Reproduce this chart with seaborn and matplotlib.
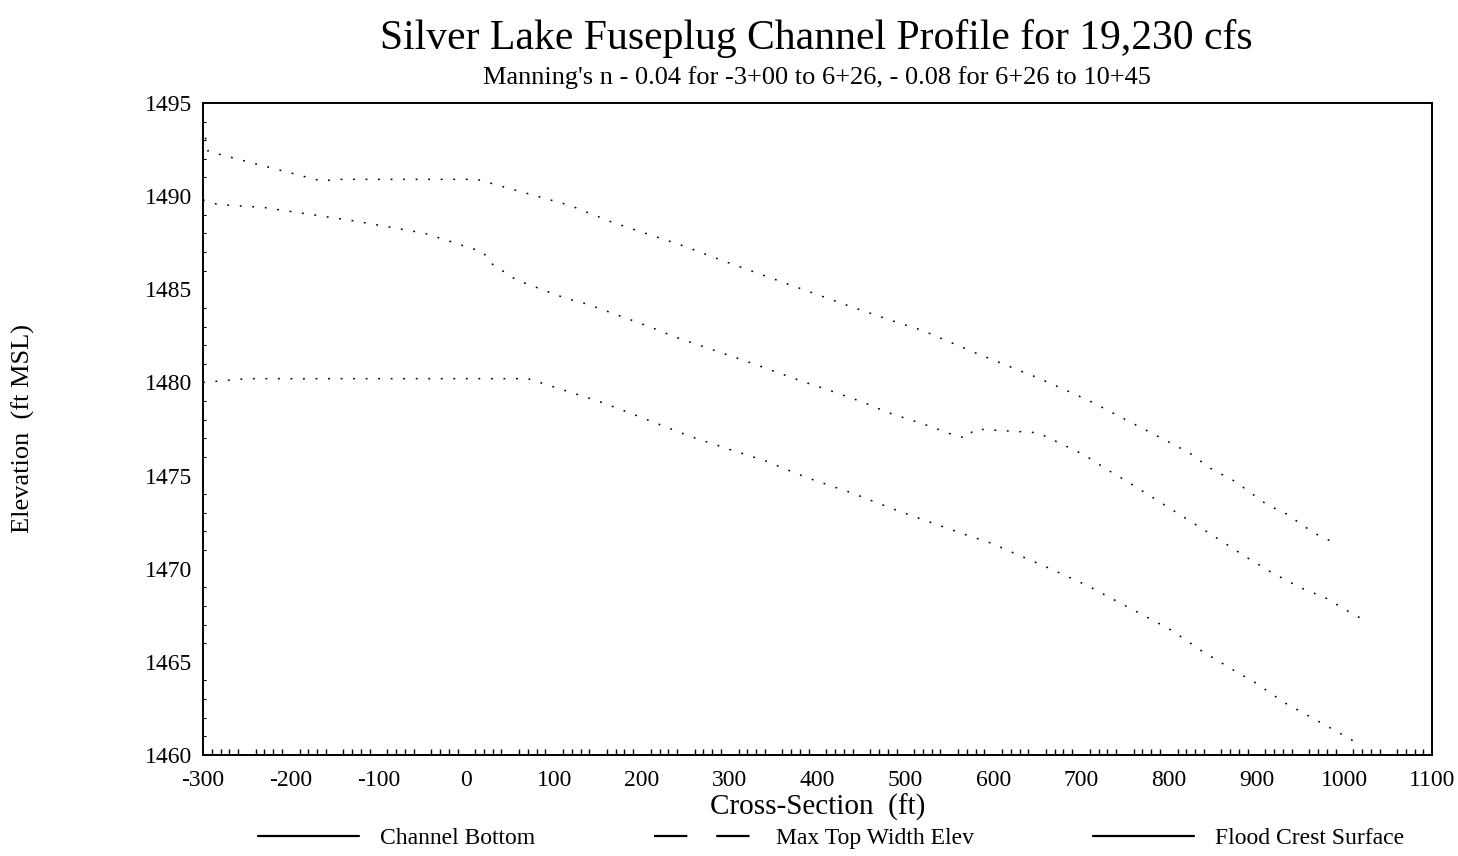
import matplotlib
matplotlib.use('Agg')
import matplotlib.pyplot as plt
import seaborn as sns
import pandas as pd
from matplotlib.lines import Line2D
from matplotlib.ticker import MultipleLocator, FuncFormatter

# estaciones (ft) y elevaciones (ft MSL)
station_bottom = [-300, -250, 70, 150, 184, 255, 300, 340, 387, 437, 492, 570, 596,
                  665, 707, 803, 837, 872, 898, 932, 963, 986, 1016]
elev_bottom = [1480.0, 1480.2, 1480.2, 1479.0, 1478.4, 1477.1, 1476.4, 1475.8, 1474.9,
               1474.1, 1473.1, 1471.8, 1471.4, 1470.0, 1469.1, 1466.7, 1465.6, 1464.6,
               1463.9, 1462.8, 1462.0, 1461.4, 1460.6]

station_top = [-300, -294, -164, -150, -124, -100, -60, -31, 12, 118, 166, 198, 249, 294,
               442, 492, 519, 579, 648, 682, 710, 796, 824, 847, 875, 913, 932, 966, 993]
elev_top = [1493.8, 1492.4, 1490.8, 1490.9, 1490.9, 1490.9, 1490.9, 1490.9, 1490.9,
            1489.5, 1488.6, 1488.1, 1487.3, 1486.5, 1484.0, 1483.2, 1482.8, 1481.6,
            1480.3, 1479.6, 1479.0, 1476.9, 1476.2, 1475.4, 1474.7, 1473.4, 1473.0,
            1471.9, 1471.3]

station_crest = [-300, -288, -268, -232, -132, -107, -47, 19, 28, 57, 114, 138, 208, 240,
                 290, 315, 386, 406, 454, 479, 531, 547, 569, 579, 651, 704, 727, 752,
                 843, 866, 889, 917, 949, 980, 1001, 1028]
elev_crest = [1489.8, 1489.6, 1489.5, 1489.4, 1488.7, 1488.5, 1488.0, 1487.0, 1486.4,
              1485.5, 1484.5, 1484.2, 1483.0, 1482.4, 1481.6, 1481.2, 1480.0, 1479.7,
              1478.9, 1478.4, 1477.6, 1477.3, 1477.0, 1477.5, 1477.3, 1476.1, 1475.4,
              1474.7, 1472.0, 1471.3, 1470.6, 1469.8, 1469.0, 1468.4, 1467.8, 1467.1]

labels = ['Channel Bottom', 'Max Top Width Elev', 'Flood Crest Surface']

title = 'Silver Lake Fuseplug Channel Profile for 19,230 cfs'
subtitle = "Manning's n - 0.04 for -3+00 to 6+26, - 0.08 for 6+26 to 10+45"

sns.set_style('white')
plt.rcParams['font.family'] = ['Liberation Serif', 'DejaVu Serif']
plt.rcParams['text.color'] = 'black'
plt.rcParams['axes.labelcolor'] = 'black'
plt.rcParams['xtick.color'] = 'black'
plt.rcParams['ytick.color'] = 'black'

fig = plt.figure(figsize=(14.58, 8.56), dpi=100)
ax = fig.add_axes([0.1392, 0.118, 0.8431, 0.7617])

df_b = pd.DataFrame({'x': station_bottom, 'y': elev_bottom})
df_t = pd.DataFrame({'x': station_top, 'y': elev_top})
df_c = pd.DataFrame({'x': station_crest, 'y': elev_crest})

dots = (0, (1.2, 7))
for d in (df_b, df_t, df_c):
    sns.lineplot(data=d, x='x', y='y', ax=ax, color='black', lw=1.1, linestyle=dots,
                 estimator=None, sort=False)

ax.set_xlim(-300, 1100)
ax.set_ylim(1460, 1495)
ax.xaxis.set_major_locator(MultipleLocator(50))
ax.xaxis.set_minor_locator(MultipleLocator(10))
ax.xaxis.set_major_formatter(FuncFormatter(lambda v, p: f'{int(v)}' if v % 100 == 0 else ''))
ax.yaxis.set_major_locator(MultipleLocator(5))
ax.yaxis.set_minor_locator(MultipleLocator(1))
ax.tick_params(axis='x', which='major', direction='in', length=8, width=1.2,
               labelsize=17, pad=11)
ax.tick_params(axis='x', which='minor', direction='in', length=4, width=1.0, bottom=True)
ax.tick_params(axis='y', which='major', direction='in', length=3, width=1.0,
               labelsize=17, pad=8)
ax.tick_params(axis='y', which='minor', direction='in', length=2, width=0.8, left=True)
for s in ax.spines.values():
    s.set_color('black')
    s.set_linewidth(1.4)

ax.set_xlabel('Cross-Section  (ft)', fontsize=21, labelpad=2)
ax.set_ylabel('Elevation  (ft MSL)', fontsize=19, labelpad=0)
ax.yaxis.set_label_coords(-0.137, 0.5)

fig.text(0.56, 0.955, title, ha='center', va='center', fontsize=30)
fig.text(0.56, 0.91, subtitle, ha='center', va='center', fontsize=19)

handles = [
    Line2D([], [], color='black', lw=1.6),
    Line2D([], [], color='black', lw=1.6, linestyle=(0, (15, 13))),
    Line2D([], [], color='black', lw=1.6),
]
fig.legend(handles, labels, loc='lower center', bbox_to_anchor=(0.57, -0.017), ncol=3,
           frameon=False, fontsize=17, handlelength=4.3, handletextpad=0.9,
           columnspacing=5.0)

fig.savefig('out.png', dpi=100)
